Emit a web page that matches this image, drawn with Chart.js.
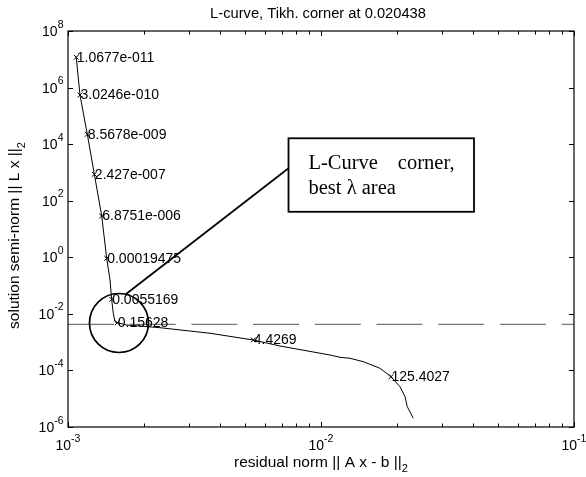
<!DOCTYPE html>
<html>
<head>
<meta charset="utf-8">
<script src="https://cdn.jsdelivr.net/npm/chart.js@4.4.1/dist/chart.umd.min.js"></script>
<style>
  html, body { margin: 0; padding: 0; background: #fff; }
  #wrap { width: 586px; height: 477px; position: relative; }
</style>
</head>
<body>
<div id="wrap"><canvas id="lcurve"></canvas></div>
<script>
// L-curve: residual norm || A x - b || against solution semi-norm || L x ||
const curveResidual = [1.069e-3, 1.078e-3, 1.115e-3, 1.192e-3, 1.271e-3, 1.359e-3, 1.422e-3, 1.466e-3,
  1.488e-3, 1.510e-3, 1.534e-3, 1.566e-3, 1.706e-3, 2.310e-3, 3.641e-3, 5.400e-3, 6.884e-3,
  1.085e-2, 1.189e-2, 1.302e-2, 1.469e-2, 1.711e-2, 1.891e-2, 2.052e-2, 2.148e-2, 2.193e-2, 2.317e-2];
const curveSemiNorm = [1.31e7, 1.18e7, 5.46e5, 2.23e4, 859, 28.8, 0.921, 0.157,
  3.27e-2, 1.05e-2, 5.28e-3, 4.87e-3, 4.04e-3, 3.24e-3, 2.06e-3, 1.19e-3, 7.31e-4,
  3.51e-4, 2.91e-4, 2.69e-4, 2.04e-4, 1.19e-4, 6.00e-5, 2.66e-5, 1.18e-5, 5.22e-6, 2.03e-6];

// regularisation parameters marked with x on the curve
const lambdaLabels = ['1.0677e-011', '3.0246e-010', '8.5678e-009', '2.427e-007', '6.8751e-006',
  '0.00019475', '0.0055169', '0.15628', '4.4269', '125.4027'];
const lambdaResidual = [1.078e-3, 1.115e-3, 1.192e-3, 1.271e-3, 1.359e-3, 1.422e-3, 1.488e-3, 1.566e-3, 5.40e-3, 1.891e-2];
const lambdaSemiNorm = [1.18e7, 5.46e5, 2.23e4, 859, 28.8, 0.921, 3.27e-2, 4.87e-3, 1.19e-3, 6.0e-5];

const cornerSemiNorm = 4.27e-3;   // dashed level line
const cornerIndex = 7;            // circled marker
const calloutAt = { x: 7.44e-3, y: 1.61e4 };  // top-left of text box
const calloutText = ['L-Curve', 'corner,', 'best λ area'];
const titleText = 'L-curve, Tikh. corner at 0.020438';

const xDecades = [-3, -2, -1];
const yDecades = [8, 6, 4, 2, 0, -2, -4, -6];

const SANS = '"Liberation Sans", Arial, sans-serif';
const SERIF = '"Liberation Serif", "Times New Roman", serif';

function powLabel(ctx, exp, px, baseline, align) {
  ctx.font = '14px ' + SANS;
  const wb = ctx.measureText('10').width;
  ctx.font = '10.5px ' + SANS;
  const we = ctx.measureText(exp).width;
  const left = align === 'right' ? px - wb - we : px - (wb + we) / 2;
  ctx.textAlign = 'left';
  ctx.textBaseline = 'alphabetic';
  ctx.font = '14px ' + SANS;
  ctx.fillText('10', left, baseline);
  ctx.font = '10.5px ' + SANS;
  ctx.fillText(exp, left + wb, baseline - 8.5);
}

function subLabel(ctx, main, sub, cx, baseline) {
  ctx.font = '15.5px ' + SANS;
  const wm = ctx.measureText(main).width;
  ctx.font = '11px ' + SANS;
  const ws = ctx.measureText(sub).width;
  const left = cx - (wm + ws) / 2;
  ctx.textAlign = 'left';
  ctx.textBaseline = 'alphabetic';
  ctx.font = '15.5px ' + SANS;
  ctx.fillText(main, left, baseline);
  ctx.font = '11px ' + SANS;
  ctx.fillText(sub, left + wm, baseline + 5.5);
}

const lcurveDecor = {
  id: 'lcurveDecor',
  afterDraw(chart) {
    const { ctx, chartArea: a, scales: { x, y } } = chart;
    ctx.save();
    ctx.fillStyle = '#000';
    ctx.strokeStyle = '#000';

    // axes box
    ctx.lineWidth = 1.2;
    ctx.strokeRect(a.left, a.top, a.right - a.left, a.bottom - a.top);

    // x ticks, major + minor, top and bottom
    ctx.lineWidth = 1;
    ctx.beginPath();
    xDecades.forEach((d, i) => {
      const base = Math.pow(10, d);
      const px = Math.round(x.getPixelForValue(base)) + 0.5;
      ctx.moveTo(px, a.bottom); ctx.lineTo(px, a.bottom - 5);
      ctx.moveTo(px, a.top); ctx.lineTo(px, a.top + 5);
      if (i < xDecades.length - 1) {
        for (let k = 2; k <= 9; k++) {
          const mx = Math.round(x.getPixelForValue(k * base)) + 0.5;
          ctx.moveTo(mx, a.bottom); ctx.lineTo(mx, a.bottom - 3.5);
          ctx.moveTo(mx, a.top); ctx.lineTo(mx, a.top + 3.5);
        }
      }
    });
    yDecades.forEach(d => {
      const py = Math.round(y.getPixelForValue(Math.pow(10, d))) + 0.5;
      ctx.moveTo(a.left, py); ctx.lineTo(a.left + 5, py);
      ctx.moveTo(a.right, py); ctx.lineTo(a.right - 5, py);
    });
    ctx.stroke();

    // tick labels
    xDecades.forEach(d => powLabel(ctx, String(d), x.getPixelForValue(Math.pow(10, d)), a.bottom + 23, 'center'));
    yDecades.forEach(d => powLabel(ctx, String(d), a.left - 4.5, y.getPixelForValue(Math.pow(10, d)) + 5, 'right'));

    // title
    ctx.font = '14.7px ' + SANS;
    ctx.textAlign = 'center';
    ctx.textBaseline = 'alphabetic';
    ctx.fillText(titleText, 318, 18);

    // axis titles
    subLabel(ctx, 'residual norm || A x - b ||', '2', (a.left + a.right) / 2, 466.5);
    ctx.save();
    ctx.translate(19, 235.5);
    ctx.rotate(-Math.PI / 2);
    subLabel(ctx, 'solution semi-norm || L x ||', '2', 0, 0);
    ctx.restore();

    // marker labels
    ctx.font = '14px ' + SANS;
    ctx.textAlign = 'left';
    ctx.textBaseline = 'middle';
    lambdaLabels.forEach((t, i) => {
      ctx.fillText(t, x.getPixelForValue(lambdaResidual[i]) + 0.5, y.getPixelForValue(lambdaSemiNorm[i]) + 0.5);
    });

    // corner circle + callout
    const cx = x.getPixelForValue(lambdaResidual[cornerIndex]) + 1.7;
    const cy = y.getPixelForValue(lambdaSemiNorm[cornerIndex]) + 0.3;
    const r = 29.5;
    ctx.lineWidth = 1.7;
    ctx.beginPath();
    ctx.arc(cx, cy, r, 0, Math.PI * 2);
    ctx.stroke();

    const bx = x.getPixelForValue(calloutAt.x);
    const by = y.getPixelForValue(calloutAt.y);
    const bw = 185.5, bh = 73.5;
    const ang = Math.atan2(-29.7, 7);
    ctx.beginPath();
    ctx.moveTo(cx + r * Math.cos(ang), cy + r * Math.sin(ang));
    ctx.lineTo(bx, by + 30);
    ctx.stroke();

    ctx.fillStyle = '#fff';
    ctx.fillRect(bx, by, bw, bh);
    ctx.lineWidth = 1.8;
    ctx.strokeRect(bx, by, bw, bh);
    ctx.fillStyle = '#000';
    ctx.font = '20.5px ' + SERIF;
    ctx.textBaseline = 'alphabetic';
    ctx.textAlign = 'left';
    ctx.fillText(calloutText[0], bx + 20, by + 31);
    ctx.fillText(calloutText[2], bx + 20, by + 55.5);
    ctx.textAlign = 'right';
    ctx.fillText(calloutText[1], bx + 166, by + 31);

    ctx.restore();
  }
};

new Chart(document.getElementById('lcurve'), {
  type: 'scatter',
  data: {
    datasets: [
      {
        label: 'level',
        data: [{ x: 1e-3, y: cornerSemiNorm }, { x: 1e-1, y: cornerSemiNorm }],
        showLine: true,
        borderColor: '#555',
        borderWidth: 1,
        borderDash: [46, 15.7],
        pointRadius: 0
      },
      {
        label: 'L-curve',
        data: curveResidual.map((v, i) => ({ x: v, y: curveSemiNorm[i] })),
        showLine: true,
        borderColor: '#000',
        borderWidth: 1,
        pointRadius: 0,
        tension: 0
      },
      {
        label: 'lambda',
        data: lambdaResidual.map((v, i) => ({ x: v, y: lambdaSemiNorm[i] })),
        pointStyle: 'crossRot',
        pointRadius: 3.4,
        borderColor: '#000',
        borderWidth: 1,
        showLine: false
      }
    ]
  },
  options: {
    responsive: true,
    maintainAspectRatio: false,
    animation: false,
    layout: { padding: { top: 31, right: 12, left: 0, bottom: 0 } },
    plugins: { legend: { display: false }, tooltip: { enabled: false } },
    scales: {
      x: {
        type: 'logarithmic',
        min: 1e-3,
        max: 1e-1,
        grid: { display: false },
        border: { display: false },
        ticks: { display: false },
        afterFit: s => { s.height = 50; }
      },
      y: {
        type: 'logarithmic',
        min: 1e-6,
        max: 1e8,
        grid: { display: false },
        border: { display: false },
        ticks: { display: false },
        afterFit: s => { s.width = 68; }
      }
    }
  },
  plugins: [lcurveDecor]
});
</script>
</body>
</html>
